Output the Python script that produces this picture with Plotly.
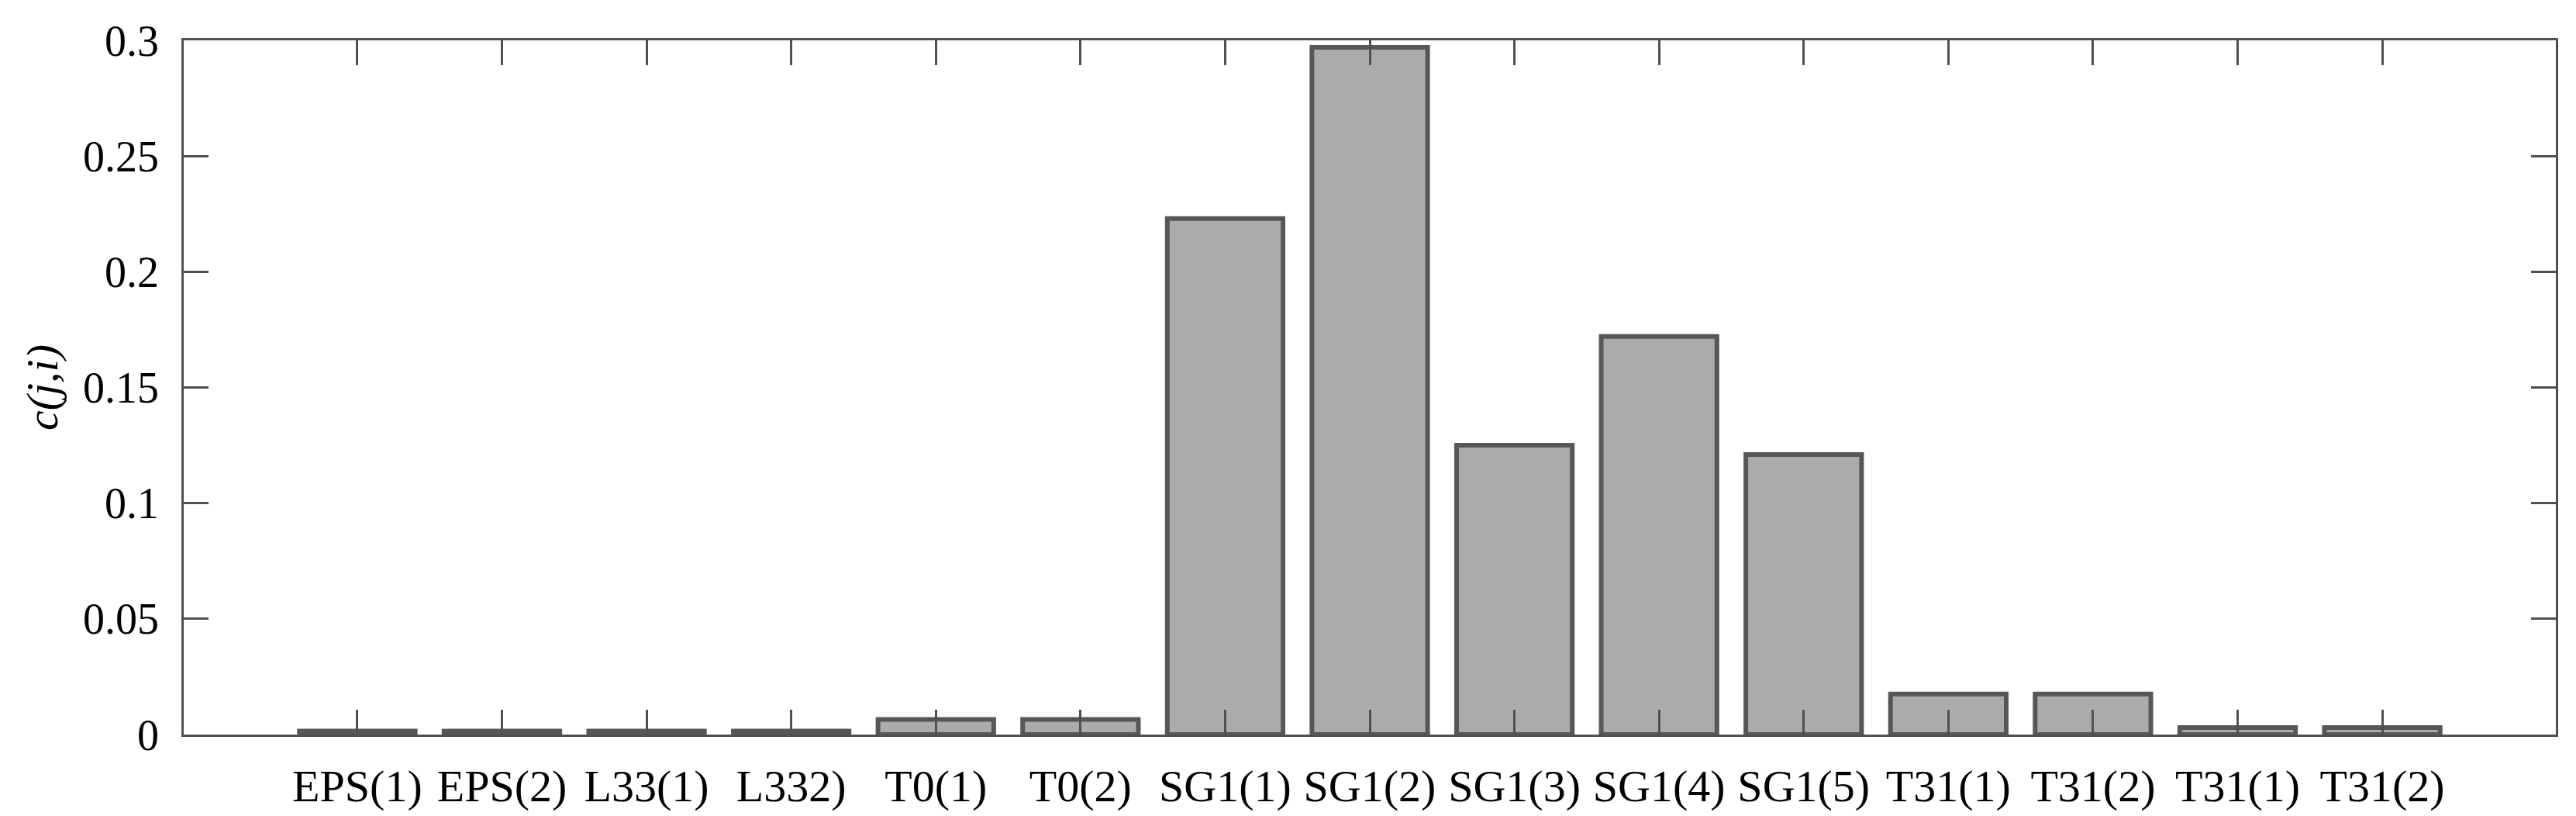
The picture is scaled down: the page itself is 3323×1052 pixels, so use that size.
import plotly.graph_objects as go

# data
labels = ["EPS(1)", "EPS(2)", "L33(1)", "L332)", "T0(1)", "T0(2)",
          "SG1(1)", "SG1(2)", "SG1(3)", "SG1(4)", "SG1(5)",
          "T31(1)", "T31(2)", "T31(1)", "T31(2)"]
values = [0.0015, 0.0015, 0.0015, 0.0015, 0.0065, 0.0065,
          0.223, 0.297, 0.125, 0.172, 0.121,
          0.0175, 0.0175, 0.003, 0.003]
y_ticks = [0, 0.05, 0.1, 0.15, 0.2, 0.25, 0.3]
y_ticktext = ["0", "0.05", "0.1", "0.15", "0.2", "0.25", "0.3"]

positions = list(range(len(labels)))
font = "Liberation Serif, Times New Roman, serif"
axis_col = "#505050"

fig = go.Figure()
fig.add_trace(
    go.Bar(
        x=positions,
        y=values,
        width=0.8,
        marker=dict(color="#ababab", line=dict(color="#575757", width=6)),
        showlegend=False,
    )
)

fig.update_layout(
    width=3323,
    height=1052,
    margin=dict(l=229, r=34, t=44, b=113),
    plot_bgcolor="white",
    paper_bgcolor="white",
    font=dict(family=font, size=56, color="black"),
    xaxis=dict(
        range=[-1.2, 15.2],
        tickmode="array",
        tickvals=positions,
        ticktext=labels,
        tickfont=dict(size=58),
        ticks="inside",
        ticklen=32,
        tickwidth=2.5,
        tickcolor=axis_col,
        showline=True,
        linecolor=axis_col,
        linewidth=2.5,
        mirror="ticks",
        showgrid=False,
        zeroline=False,
        ticklabelstandoff=14,
    ),
    yaxis=dict(
        range=[0, 0.3],
        tickmode="array",
        tickvals=y_ticks,
        ticktext=y_ticktext,
        ticks="inside",
        ticklen=32,
        tickwidth=2.5,
        tickcolor=axis_col,
        showline=True,
        linecolor=axis_col,
        linewidth=2.5,
        mirror="ticks",
        showgrid=False,
        zeroline=False,
        ticklabelstandoff=18,
        title=dict(text="<i>c(j,i)</i>", standoff=14,
                   font=dict(family=font, size=58)),
    ),
)

fig.write_html("out.html")
